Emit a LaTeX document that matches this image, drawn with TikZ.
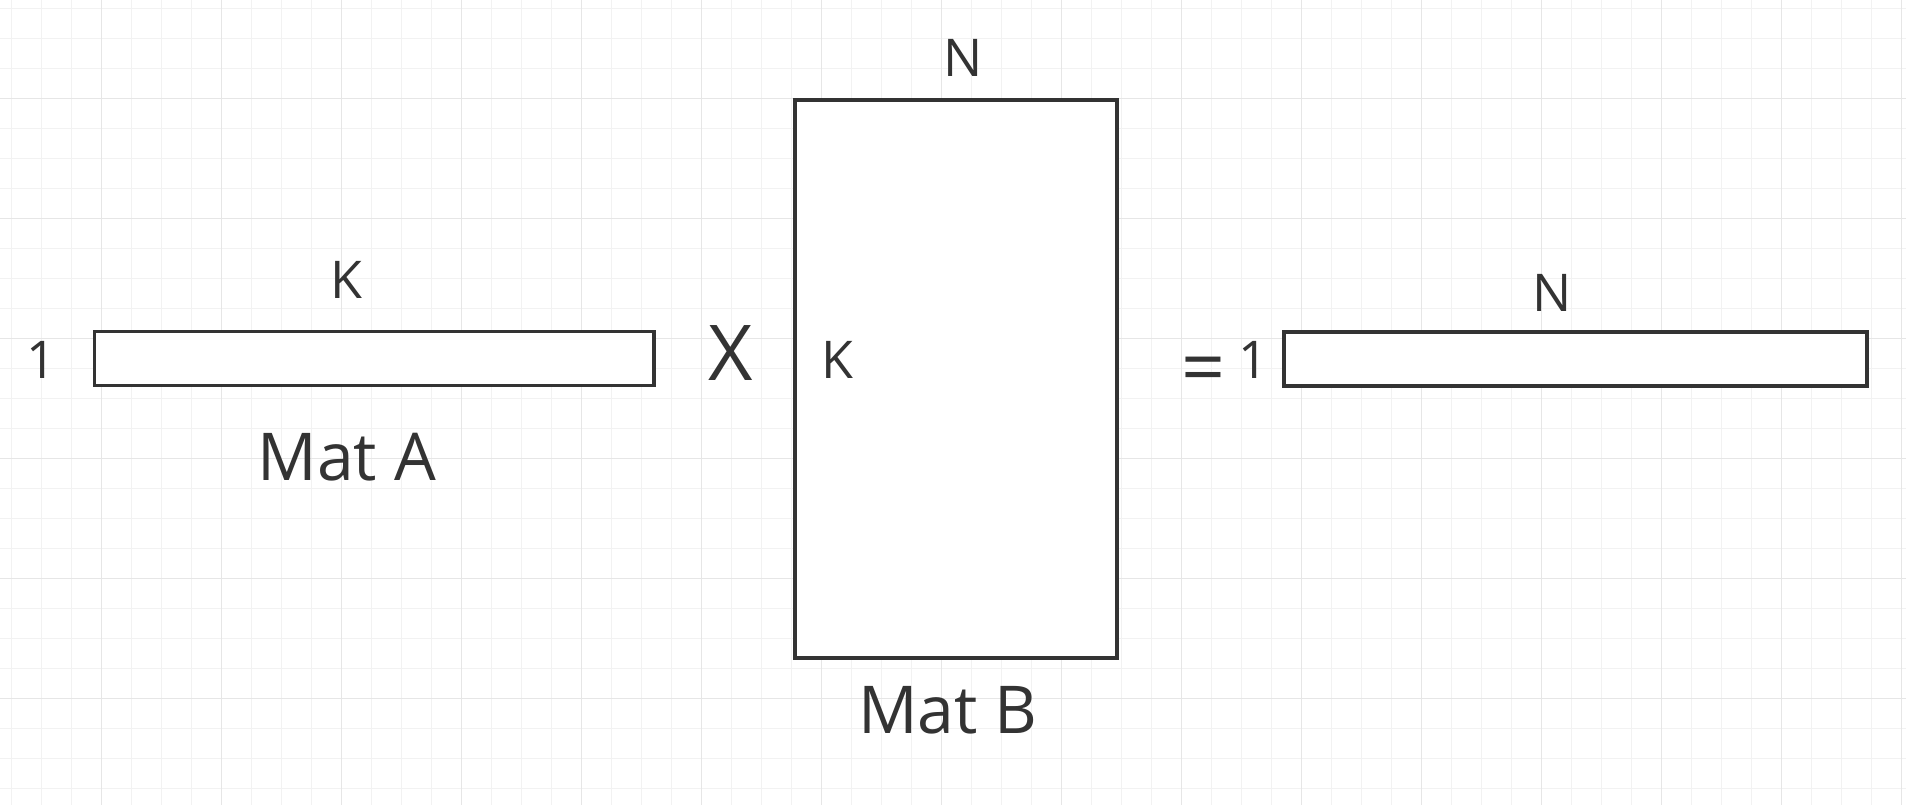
\documentclass[tikz,border=0pt]{standalone}
\usepackage{fontspec}
\setmainfont{Open Sans}
\usepackage{xcolor}
\usepackage{tikz}
\definecolor{inkgray}{RGB}{51,51,51}
\definecolor{gridminor}{RGB}{242,242,242}
\definecolor{gridmajor}{RGB}{230,230,230}

\begin{document}
\begin{tikzpicture}[x=1pt, y=-1pt,
  every node/.style={text=inkgray, inner sep=0pt},
  matbox/.style={draw=inkgray, line width=3.5pt, fill=white, outer sep=0pt},
  dimlabel/.style={anchor=base, font=\fontsize{52}{60}\selectfont},
  matname/.style={anchor=base, font=\fontsize{66}{76}\selectfont}]
\useasboundingbox (0,0) rectangle (1906,805);
\fill[white] (0,0) rectangle (1906,805);
% Grid
\foreach \i in {0,...,63} \draw[gridminor, line width=1pt] ({11.7+30*\i},0) -- ({11.7+30*\i},805);
\foreach \j in {0,...,26} \draw[gridminor, line width=1pt] (0,{8.3+30*\j}) -- (1906,{8.3+30*\j});
\foreach \i in {0,...,15} \draw[gridmajor, line width=1.5pt] ({101.7+120*\i},0) -- ({101.7+120*\i},805);
\foreach \j in {0,...,5} \draw[gridmajor, line width=1.5pt] (0,{98.3+120*\j}) -- (1906,{98.3+120*\j});
% Mat A
\node[matbox, minimum width=559.5pt, minimum height=54pt] (matA) at (374.3,358.6) {};
\node[dimlabel] (oneA) at (41.7,378) {1};
\node[dimlabel] (kA) at (346.7,298) {K};
\node[matname] (nameA) at (346.7,480) {Mat A};
\node[anchor=base, font=\fontsize{77}{88}\selectfont] (times) at (731,380) {X};
% Mat B
\node[matbox, minimum width=322pt, minimum height=558pt] (matB) at (956,379) {};
\node[dimlabel] (nB) at (963,77) {N};
\node[dimlabel] (kB) at (837,378) {K};
\node[matname] (nameB) at (948,733) {Mat B};
% Result
\node[dimlabel] (eqOne) at (1225,378) {{\fontsize{77}{88}\selectfont\raisebox{-16pt}{=}} 1};
\node[matbox, minimum width=583pt, minimum height=54pt] (matC) at (1575.5,359) {};
\node[dimlabel] (nC) at (1552,311) {N};
\end{tikzpicture}
\end{document}
